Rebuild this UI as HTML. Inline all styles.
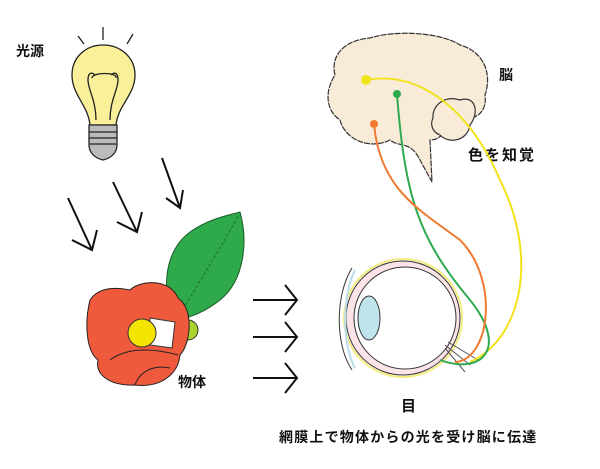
<!DOCTYPE html>
<html><head><meta charset="utf-8"><style>
body{margin:0;background:#fff}
svg{display:block}
text{font-family:"Liberation Sans","Noto Sans CJK JP",sans-serif;font-weight:bold;fill:#111}
</style></head><body>
<svg width="600" height="469" viewBox="0 0 600 469">
<g stroke="#222" stroke-width="1.3" fill="none">
<line x1="78" y1="36" x2="84" y2="44"/><line x1="103" y1="27" x2="103" y2="40"/><line x1="133" y1="34" x2="127" y2="44"/>
<path d="M90 125 C88 105 72 95 72 75 C72 57 86 45 103 45 C120 45 135 57 135 75 C135 95 118 105 116 125 Z" fill="#fbf09a"/>
<path d="M96 120 C96 100 88 90 88 80 C88 72 92 72 95 75 M110 120 C110 100 118 90 118 80 C118 72 114 72 111 75 M92 78 C92 72 118 72 116 78"/>
<path d="M89 125 H117 V145 C117 152 112 158 103 160 C94 158 89 152 89 145 Z" fill="#bbb"/>
<path d="M89 132 H117 M89 138 H117 M90 144 H116"/>
</g>
<text x="16" y="56" font-size="14">光源</text>
<g stroke="#111" stroke-width="2" fill="none">
<path d="M68 198 L92 250 M72 240 L92 250 L97 230"/>
<path d="M113 182 L137 232 M117 222 L137 232 L142 212"/>
<path d="M162 158 L180 208 M166 198 L180 208 L183 190"/>
<path d="M253 300 H297 M285 285 L297 300 L285 315"/>
<path d="M253 337 H297 M285 322 L297 337 L285 352"/>
<path d="M253 378 H297 M285 363 L297 378 L285 393"/>
</g>
<path d="M175 320 C160 290 165 250 190 232 C210 218 230 215 240 212 C248 240 245 280 220 300 C205 312 190 318 175 320 Z" fill="#2eaa4a" stroke="#1a5a2a" stroke-width="1"/>
<path d="M178 318 C200 280 220 250 238 216" stroke="#1a5a2a" stroke-width="0.8" fill="none" stroke-dasharray="3 2"/>
<circle cx="188" cy="330" r="10" fill="#a8d430" stroke="#333"/>
<g stroke="#222" stroke-width="1" fill="#f05a3c">
<path d="M90 300 C100 285 120 288 130 290 C140 280 170 278 178 298 C195 310 190 345 180 355 C178 375 160 388 135 385 C110 386 95 375 98 360 C85 350 85 320 90 300 Z"/>
<path d="M110 360 C130 345 160 350 178 355 M135 385 C140 370 155 365 170 368"/>
</g>
<path d="M150 318 L175 322 L172 348 L150 345 Z" fill="#fff" stroke="#333"/>
<circle cx="142" cy="333" r="14" fill="#f4e400" stroke="#333"/>
<text x="178" y="387" font-size="14">物体</text>
<path d="M335 75 C330 55 345 40 370 38 C395 30 440 32 460 45 C485 52 492 75 485 95 C488 115 470 125 455 112 C445 125 445 140 430 140 L432 182 L420 160 C410 140 400 148 390 140 C370 150 345 140 340 120 C325 110 325 90 335 75 Z" fill="#f8ecd8" stroke="#333" stroke-width="1.2" stroke-dasharray="6 1"/>
<path d="M433 118 C432 105 445 95 460 100 C475 95 480 112 470 125 C468 140 450 145 440 135 C432 132 430 124 433 118 Z" fill="#f8ecd8" stroke="#333" stroke-width="1.2"/>
<text x="499" y="80" font-size="14">脳</text>
<text x="468" y="160" font-size="15" letter-spacing="2">色を知覚</text>
<circle cx="403" cy="318" r="57" fill="#fae4e8" stroke="#333" stroke-width="1"/>
<circle cx="403" cy="318" r="59" fill="none" stroke="#f4ec80" stroke-width="2"/>
<circle cx="405" cy="318" r="51" fill="#fff" stroke="#333" stroke-width="1"/>
<path d="M352 268 C335 295 335 345 352 370" fill="none" stroke="#333" stroke-width="1"/>
<path d="M355 270 C342 295 342 345 355 368" fill="none" stroke="#bde" stroke-width="2"/>
<ellipse cx="369" cy="318" rx="11" ry="22" fill="#bfe4ec" stroke="#333"/>
<path d="M445 345 L470 365 M445 348 L465 372 M448 342 L478 360" stroke="#555" stroke-width="1"/>
<g fill="none" stroke-width="2">
<path d="M366 80 C420 70 470 110 500 180 C540 260 520 340 470 362" stroke="#f2e21a"/>
<path d="M397 94 C405 200 420 240 470 300 C510 350 480 375 440 360" stroke="#30aa50"/>
<path d="M374 124 C380 190 420 210 460 240 C500 280 490 360 455 362" stroke="#f07a30"/>
</g>
<circle cx="366" cy="80" r="5" fill="#f2e21a"/>
<circle cx="397" cy="94" r="4" fill="#30aa50"/>
<circle cx="374" cy="124" r="4" fill="#f07a30"/>
<text x="401" y="411" font-size="15">目</text>
<text x="279" y="442" font-size="14" letter-spacing="1.2">網膜上で物体からの光を受け脳に伝達</text>
</svg>
</body></html>
